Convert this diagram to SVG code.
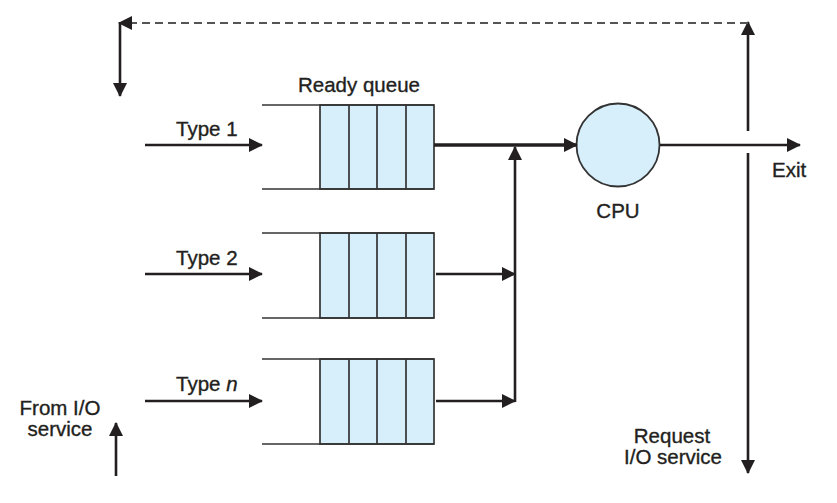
<svg xmlns="http://www.w3.org/2000/svg" width="837" height="503" viewBox="0 0 837 503">
<style>
text{font-family:"Liberation Sans",Arial,sans-serif;font-size:20.5px;fill:#231f20;stroke:#231f20;stroke-width:0.35}
.q{stroke:#333;stroke-width:1.7;fill:none}
.cell{fill:#d7effb;stroke:#333;stroke-width:1.7}
.ar{stroke:#231f20;stroke-width:2.6;fill:none}
.thick{stroke:#231f20;stroke-width:3.6;fill:none}
.dash{stroke:#555;stroke-width:2;stroke-dasharray:8 5;fill:none}
</style>
<defs>
<marker id="ah" viewBox="0 0 14 14" refX="13" refY="7" markerWidth="14" markerHeight="14" markerUnits="userSpaceOnUse" orient="auto">
<path d="M0,0 L14,7 L0,14 z" fill="#231f20"/>
</marker>
</defs>
<rect width="837" height="503" fill="#fff"/>
<text x="359" y="92" text-anchor="middle" font-size="22">Ready queue</text>
<g id="queue1">
<rect class="cell" x="320" y="105" width="114" height="84"/>
<line class="q" x1="262" y1="105" x2="434" y2="105"/>
<line class="q" x1="262" y1="189" x2="434" y2="189"/>
<line class="q" x1="349" y1="105" x2="349" y2="189"/>
<line class="q" x1="377" y1="105" x2="377" y2="189"/>
<line class="q" x1="406" y1="105" x2="406" y2="189"/>
</g>
<g id="queue2">
<rect class="cell" x="320" y="233" width="114" height="85"/>
<line class="q" x1="262" y1="233" x2="434" y2="233"/>
<line class="q" x1="262" y1="318" x2="434" y2="318"/>
<line class="q" x1="349" y1="233" x2="349" y2="318"/>
<line class="q" x1="377" y1="233" x2="377" y2="318"/>
<line class="q" x1="406" y1="233" x2="406" y2="318"/>
</g>
<g id="queue3">
<rect class="cell" x="320" y="359" width="114" height="85"/>
<line class="q" x1="262" y1="359" x2="434" y2="359"/>
<line class="q" x1="262" y1="444" x2="434" y2="444"/>
<line class="q" x1="349" y1="359" x2="349" y2="444"/>
<line class="q" x1="377" y1="359" x2="377" y2="444"/>
<line class="q" x1="406" y1="359" x2="406" y2="444"/>
</g>
<g id="cpu">
<circle cx="618" cy="145" r="41.5" fill="#d7effb" stroke="#333" stroke-width="1.8"/>
<text x="618" y="218" text-anchor="middle">CPU</text>
</g>
<g id="labels">
<text x="176" y="136">Type 1</text>
<text x="176" y="265">Type 2</text>
<text x="176" y="391">Type <tspan font-style="italic">n</tspan></text>
<text x="60" y="415" text-anchor="middle">From I/O</text>
<text x="60" y="436" text-anchor="middle">service</text>
<text x="772" y="177">Exit</text>
<text x="672" y="443" text-anchor="middle">Request</text>
<text x="673" y="464" text-anchor="middle">I/O service</text>
</g>
<g id="connectors">
<line class="ar" x1="145" y1="145" x2="262" y2="145" marker-end="url(#ah)"/>
<line class="ar" x1="145" y1="274" x2="262" y2="274" marker-end="url(#ah)"/>
<line class="ar" x1="145" y1="401" x2="262" y2="401" marker-end="url(#ah)"/>
<line class="thick" x1="434" y1="145" x2="577" y2="145" marker-end="url(#ah)"/>
<line class="ar" x1="436" y1="274" x2="515" y2="274" marker-end="url(#ah)"/>
<line class="ar" x1="436" y1="401" x2="515" y2="401" marker-end="url(#ah)"/>
<line class="ar" x1="515" y1="402" x2="515" y2="147" marker-end="url(#ah)"/>
<line class="ar" x1="660" y1="145" x2="800" y2="145" marker-end="url(#ah)"/>
<line class="ar" x1="748" y1="131" x2="748" y2="22" marker-end="url(#ah)"/>
<line class="ar" x1="748" y1="153" x2="748" y2="473" marker-end="url(#ah)"/>
<line class="dash" x1="748" y1="23" x2="119" y2="23" marker-end="url(#ah)"/>
<line class="ar" x1="120" y1="22" x2="120" y2="96" marker-end="url(#ah)"/>
<line class="ar" x1="116" y1="476" x2="116" y2="423" marker-end="url(#ah)"/>
</g>
</svg>
